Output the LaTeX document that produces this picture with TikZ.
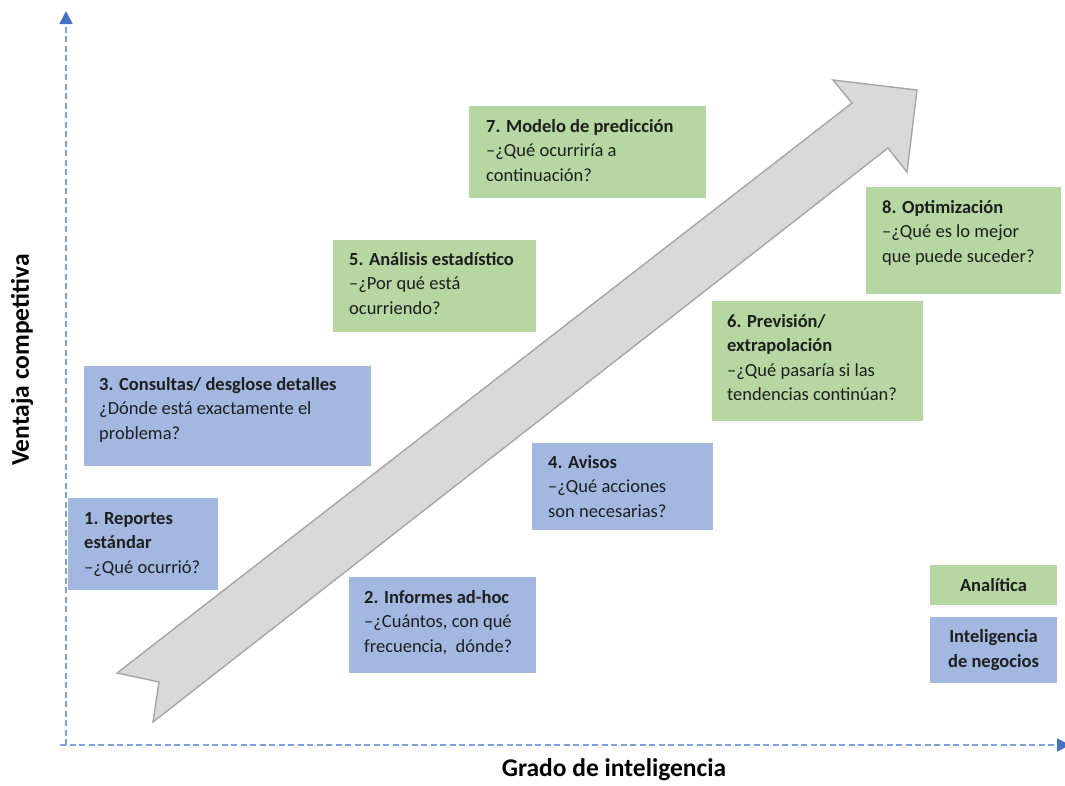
\documentclass[tikz,border=0pt]{standalone}
\usepackage{fontspec}
\setmainfont{Carlito}
\usetikzlibrary{arrows.meta,calc}
\definecolor{biblue}{RGB}{163,184,225}
\definecolor{angreen}{RGB}{182,214,162}
\definecolor{axisblue}{RGB}{125,160,222}
\definecolor{tipblue}{RGB}{68,114,196}
\definecolor{shaft}{RGB}{217,217,217}
\definecolor{shaftline}{RGB}{166,166,166}
\definecolor{ink}{RGB}{30,30,30}
\newcommand{\boxfont}{\fontsize{18.5}{24.5}\selectfont}
\newcommand{\axisfont}{\fontsize{25.5}{30}\selectfont\bfseries}
% a strut fixing the height of the first line, so the node top sits 20pt above its baseline
\newcommand{\firstline}{\rule{0pt}{20pt}}
\tikzset{
  panel/.style={draw=none, anchor=north west, inner sep=0pt, outer sep=0pt},
  bibox/.style={panel, fill=biblue},
  anbox/.style={panel, fill=angreen},
  txt/.style={anchor=north west, align=left, inner sep=0pt, font=\boxfont, text=ink},
  legtxt/.style={align=center, inner sep=0pt, font=\boxfont\bfseries, text=ink},
  axisline/.style={draw=axisblue, line width=1.8pt, dash pattern=on 6pt off 3.5pt,
    -{Triangle[length=13pt, width=13pt, color=tipblue]}},
}
\begin{document}
\begin{tikzpicture}[x=1pt, y=-1pt]
\useasboundingbox (0,0) rectangle (1065,785);

% axes
\coordinate (origin) at (66,745);
\coordinate (ytop) at (66,11);
\coordinate (xleft) at (60,745);
\coordinate (xright) at (1070,745);
\draw[axisline] (origin) -- (ytop);
\draw[axisline] (xleft) -- (xright);

\node[font=\axisfont, rotate=90, inner sep=0pt] (ylab) at (22,360) {Ventaja competitiva};
\node[font=\axisfont, inner sep=0pt] (xlab) at (614,770) {Grado de inteligencia};

% big progress arrow
\draw[fill=shaft, draw=shaftline, line width=1.4pt, line join=miter]
  (117,673) -- (852,103) -- (833,80) -- (917,90) -- (907,172) -- (888,148)
  -- (153,722) -- (159,682) -- cycle;

% business intelligence panels
\node[bibox, minimum width=150pt, minimum height=92pt] (b1) at (68,498) {};
\node[txt] (t1) at ($(b1.north west)+(16,6)$)
  {\firstline\textbf{1. Reportes}\\\textbf{estándar}\\–¿Qué ocurrió?};

\node[bibox, minimum width=287pt, minimum height=100pt] (b3) at (84,366) {};
\node[txt] (t3) at ($(b3.north west)+(15,4)$)
  {\firstline\textbf{3. Consultas/ desglose detalles}\\¿Dónde está exactamente el\\problema?};

\node[bibox, minimum width=187pt, minimum height=96pt] (b2) at (349,577) {};
\node[txt] (t2) at ($(b2.north west)+(15,6)$)
  {\firstline\textbf{2. Informes ad-hoc}\\–¿Cuántos, con qué\\frecuencia,\ \ dónde?};

\node[bibox, minimum width=181pt, minimum height=87pt] (b4) at (532,443) {};
\node[txt] (t4) at ($(b4.north west)+(16,5)$)
  {\firstline\textbf{4. Avisos}\\–¿Qué acciones\\son necesarias?};

% analytics panels
\node[anbox, minimum width=203pt, minimum height=92pt] (b5) at (333,240) {};
\node[txt] (t5) at ($(b5.north west)+(16,5)$)
  {\firstline\textbf{5. Análisis estadístico}\\–¿Por qué está\\ocurriendo?};

\node[anbox, minimum width=211pt, minimum height=120pt] (b6) at (712,301) {};
\node[txt] (t6) at ($(b6.north west)+(15,6)$)
  {\firstline\textbf{6. Previsión/}\\\textbf{extrapolación}\\–¿Qué pasaría si las\\tendencias continúan?};

\node[anbox, minimum width=237pt, minimum height=92pt] (b7) at (469,106) {};
\node[txt] (t7) at ($(b7.north west)+(17,6)$)
  {\firstline\textbf{7. Modelo de predicción}\\–¿Qué ocurriría a\\continuación?};

\node[anbox, minimum width=195pt, minimum height=107pt] (b8) at (866,187) {};
\node[txt] (t8) at ($(b8.north west)+(16,6)$)
  {\firstline\textbf{8. Optimización}\\–¿Qué es lo mejor\\que puede suceder?};

% legend
\node[anbox, minimum width=127pt, minimum height=40pt] (lg1) at (930,565) {};
\node[legtxt] (lt1) at (lg1.center) {Analítica};
\node[bibox, minimum width=127pt, minimum height=66pt] (lg2) at (930,617) {};
\node[legtxt] (lt2) at (lg2.center) {Inteligencia\\de negocios};
\end{tikzpicture}
\end{document}
